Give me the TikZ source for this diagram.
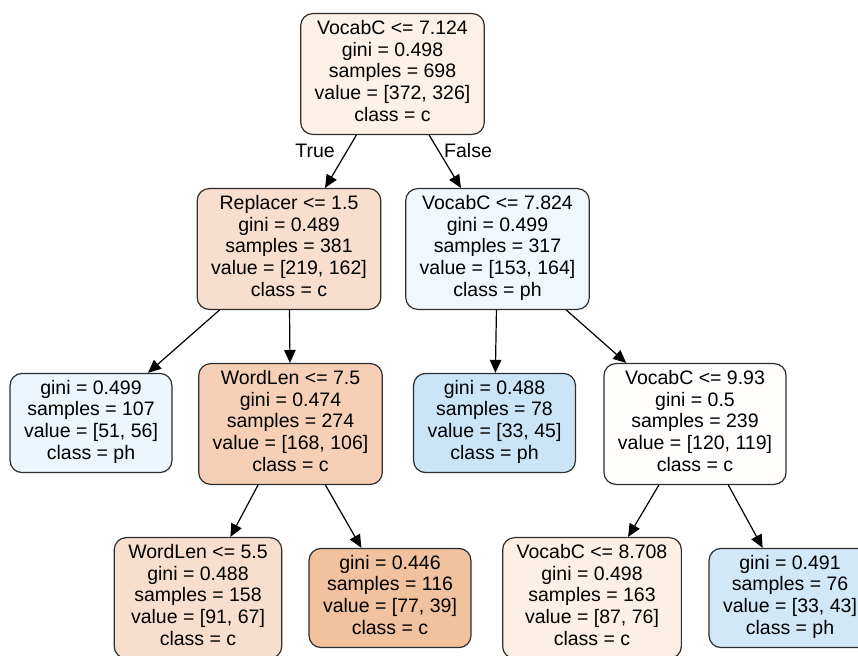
\documentclass[tikz,border=0pt]{standalone}
\usepackage{fontspec}
\setmainfont{Liberation Sans}
\usetikzlibrary{arrows.meta}
\definecolor{co}{RGB}{229,129,57}
\definecolor{cp}{RGB}{57,157,229}
\definecolor{bd}{RGB}{45,45,45}
\begin{document}
\begin{tikzpicture}[x=1pt,y=-1pt,
  tn/.style={draw=bd, line width=1.2pt, rounded corners=12pt, align=center,
    font=\fontsize{19.5}{21.7}\selectfont, inner xsep=14pt, inner ysep=6.7pt,
    execute at begin node=\strut, execute at end node=\strut},
  ed/.style={-{Triangle[length=13pt,width=11.5pt]}, line width=1.2pt, black},
  lb/.style={font=\fontsize{19.5}{21.7}\selectfont, inner sep=0pt}]
\useasboundingbox (0,0) rectangle (858,655);
\node[tn, fill=co!12!white] (root) at (392.5,74) {VocabC <= 7.124\\gini = 0.498\\samples = 698\\value = [372, 326]\\class = c};
\node[tn, fill=co!26!white] (repl) at (289,249) {Replacer <= 1.5\\gini = 0.489\\samples = 381\\value = [219, 162]\\class = c};
\node[tn, fill=cp!7!white] (va) at (497.5,249) {VocabC <= 7.824\\gini = 0.499\\samples = 317\\value = [153, 164]\\class = ph};
\node[tn, fill=cp!9!white] (l107) at (91,423) {gini = 0.499\\samples = 107\\value = [51, 56]\\class = ph};
\node[tn, fill=co!37!white] (wa) at (290.5,424) {WordLen <= 7.5\\gini = 0.474\\samples = 274\\value = [168, 106]\\class = c};
\node[tn, fill=cp!27!white] (l78) at (494.5,423) {gini = 0.488\\samples = 78\\value = [33, 45]\\class = ph};
\node[tn, fill=co!1!white] (vb) at (695,424) {VocabC <= 9.93\\gini = 0.5\\samples = 239\\value = [120, 119]\\class = c};
\node[tn, fill=co!26!white] (wb) at (198,598) {WordLen <= 5.5\\gini = 0.488\\samples = 158\\value = [91, 67]\\class = c};
\node[tn, fill=co!49!white] (l116) at (390,598) {gini = 0.446\\samples = 116\\value = [77, 39]\\class = c};
\node[tn, fill=co!13!white] (vc) at (592,598) {VocabC <= 8.708\\gini = 0.498\\samples = 163\\value = [87, 76]\\class = c};
\node[tn, fill=cp!23!white] (l76) at (790,598) {gini = 0.491\\samples = 76\\value = [33, 43]\\class = ph};
\draw[ed] (root) -- (repl);
\draw[ed] (root) -- (va);
\draw[ed] (repl) -- (l107);
\draw[ed] (repl) -- (wa);
\draw[ed] (va) -- (l78);
\draw[ed] (va) -- (vb);
\draw[ed] (wa) -- (wb);
\draw[ed] (wa) -- (l116);
\draw[ed] (vb) -- (vc);
\draw[ed] (vb) -- (l76);
\node[lb] (true) at (315,151) {True};
\node[lb] (false) at (468,151) {False};
\end{tikzpicture}
\end{document}
